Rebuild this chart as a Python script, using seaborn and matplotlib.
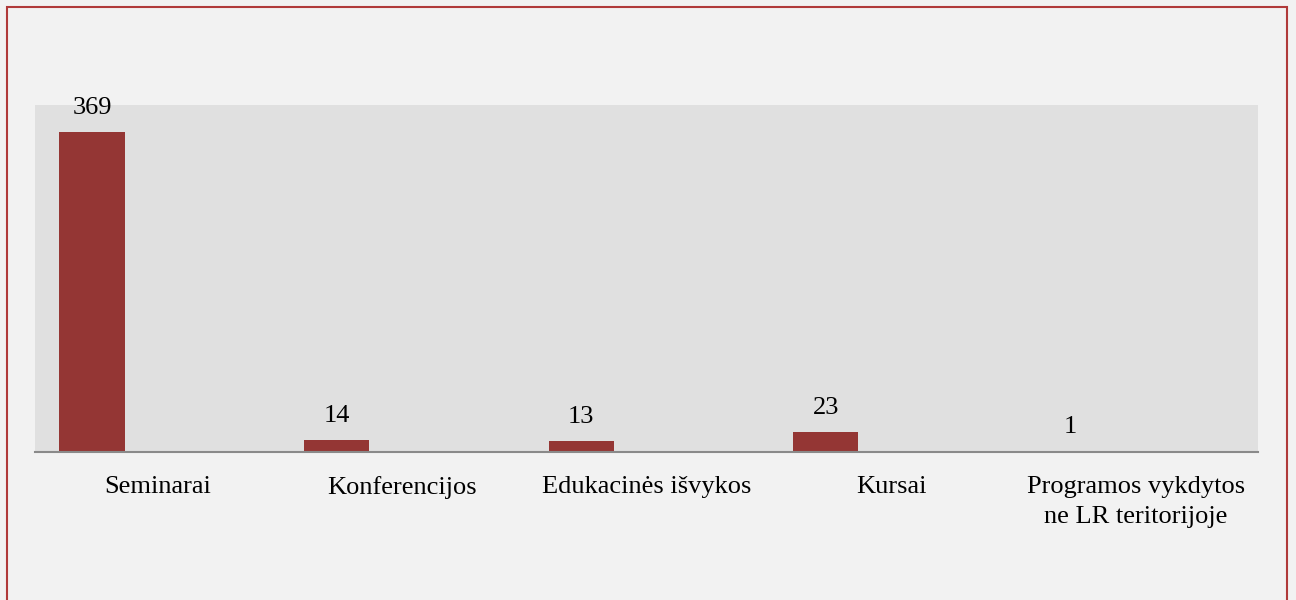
import matplotlib
matplotlib.use("Agg")
import matplotlib.pyplot as plt
import pandas as pd
import seaborn as sns
from matplotlib.patches import Rectangle

# Renginių skaičius pagal formą
categories = [
    "Seminarai",
    "Konferencijos",
    "Edukacinės išvykos",
    "Kursai",
    "Programos vykdytos\nne LR teritorijoje",
]
values = [369, 14, 13, 23, 1]
series = ["Renginiai", "_tuscia1", "_tuscia2"]  # Excel palieka vietą dar dviem serijoms

BAR_COLOR = "#943634"
BORDER_COLOR = "#B03A3A"

sns.set_theme(style="white")
plt.rcParams["font.family"] = ["Liberation Serif", "DejaVu Serif"]

df = pd.DataFrame({"kategorija": categories, "reiksme": values, "serija": series[0]})

fig = plt.figure(figsize=(12.96, 6), dpi=100, facecolor="#F2F2F2")
ax = fig.add_axes([35 / 1296, 1 - 452 / 600, (1258 - 35) / 1296, (452 - 105) / 600])
ax.set_facecolor("#E0E0E0")

sns.barplot(
    data=df,
    x="kategorija",
    y="reiksme",
    hue="serija",
    hue_order=series,
    palette=[BAR_COLOR] * 3,
    width=0.8,
    dodge=True,
    legend=False,
    errorbar=None,
    saturation=1,
    linewidth=0,
    ax=ax,
)

for cont in ax.containers:
    ax.bar_label(cont, fmt="%d", padding=9.5, fontsize=19, color="black")

ax.set_ylim(0, 400)
ax.set_xlim(-0.5, len(categories) - 0.5)
ax.set_xlabel("")
ax.set_ylabel("")
ax.set_yticks([])
ax.tick_params(axis="x", length=0, pad=17.5, labelsize=19, colors="black")
for lbl in ax.get_xticklabels():
    lbl.set_linespacing(1.45)
for side in ["top", "left", "right"]:
    ax.spines[side].set_visible(False)
ax.spines["bottom"].set_color("#8A8A8A")
ax.spines["bottom"].set_linewidth(1.5)

# raudonas rėmelis aplink diagramą
fig.patches.append(
    Rectangle(
        (7 / 1296, -0.1),
        (1287 - 7) / 1296,
        1.1 - 7 / 600,
        transform=fig.transFigure,
        fill=False,
        edgecolor=BORDER_COLOR,
        linewidth=1.5,
    )
)

fig.savefig("out.png", dpi=100, facecolor=fig.get_facecolor())
